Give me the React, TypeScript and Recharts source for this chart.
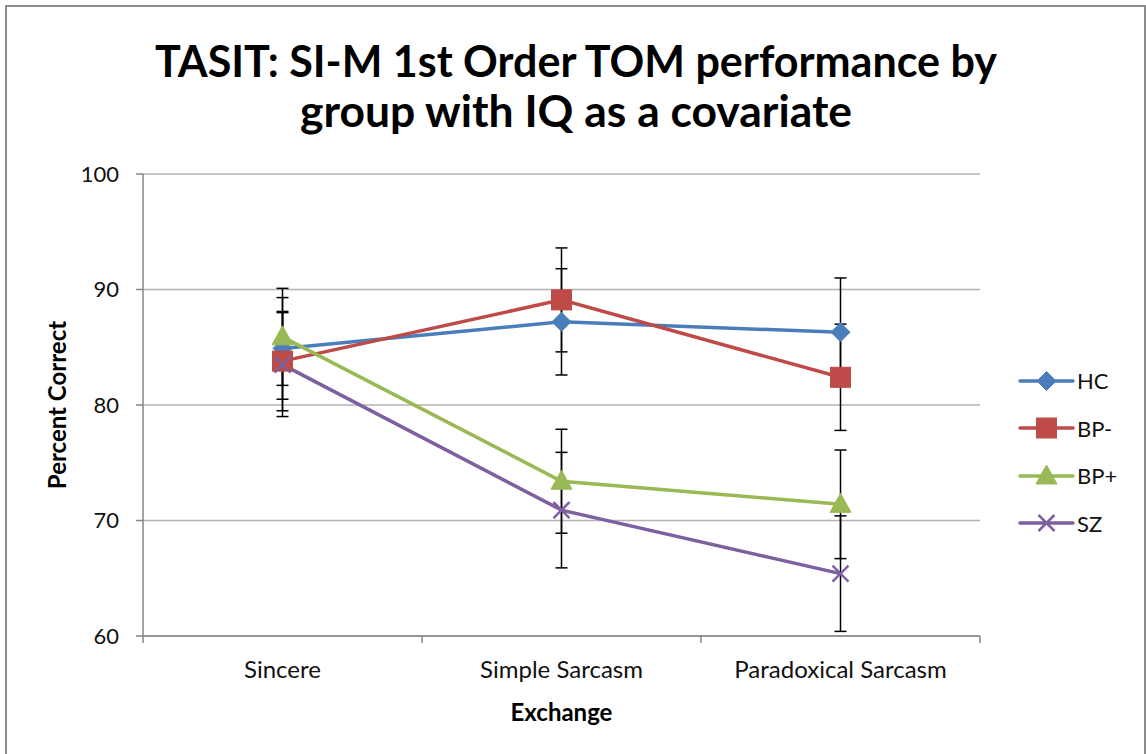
import React from "react";
import {
  CartesianGrid,
  ErrorBar,
  Label,
  Legend,
  Line,
  LineChart,
  XAxis,
  YAxis,
} from "recharts";

const categories = ["Sincere", "Simple Sarcasm", "Paradoxical Sarcasm"];

const hcValues = [84.9, 87.2, 86.3];
const hcErrors = [4.4, 4.6, 4.7];
const bpMinusValues = [83.8, 89.1, 82.4];
const bpMinusErrors = [4.3, 4.5, 4.6];
const bpPlusValues = [85.9, 73.4, 71.4];
const bpPlusErrors = [4.2, 4.5, 4.7];
const szValues = [83.5, 70.9, 65.4];
const szErrors = [4.5, 5.0, 5.0];

const yTicks = [60, 70, 80, 90, 100];
const titleLines = ["TASIT: SI-M 1st Order TOM performance by", "group with IQ as a covariate"];

const FONT = "Lato, 'Open Sans', sans-serif";

type Shape = "diamond" | "square" | "triangle" | "x";

const series: { key: string; err: string; name: string; color: string; shape: Shape }[] = [
  { key: "hc", err: "hcErr", name: "HC", color: "#4a7ebb", shape: "diamond" },
  { key: "bpMinus", err: "bpMinusErr", name: "BP-", color: "#be4b48", shape: "square" },
  { key: "bpPlus", err: "bpPlusErr", name: "BP+", color: "#98b954", shape: "triangle" },
  { key: "sz", err: "szErr", name: "SZ", color: "#7d60a0", shape: "x" },
];

const data = categories.map((name, i) => ({
  x: i + 0.5,
  name,
  hc: hcValues[i],
  hcErr: hcErrors[i],
  bpMinus: bpMinusValues[i],
  bpMinusErr: bpMinusErrors[i],
  bpPlus: bpPlusValues[i],
  bpPlusErr: bpPlusErrors[i],
  sz: szValues[i],
  szErr: szErrors[i],
}));

function Marker({ cx, cy, shape, color, k }: { cx: number; cy: number; shape: Shape; color: string; k?: string }) {
  if (shape === "diamond") {
    const h = 9.5;
    return (
      <polygon
        key={k}
        points={`${cx},${cy - h} ${cx + h},${cy} ${cx},${cy + h} ${cx - h},${cy}`}
        fill={color}
        stroke={color}
        strokeWidth={1}
      />
    );
  }
  if (shape === "square") {
    return <rect key={k} x={cx - 10} y={cy - 10} width={20} height={20} fill={color} stroke={color} strokeWidth={1} />;
  }
  if (shape === "triangle") {
    return (
      <polygon
        key={k}
        points={`${cx},${cy - 11} ${cx + 10.5},${cy + 8} ${cx - 10.5},${cy + 8}`}
        fill={color}
        stroke={color}
        strokeWidth={1}
      />
    );
  }
  return (
    <g key={k} stroke={color} strokeWidth={2.5}>
      <line x1={cx - 8} y1={cy - 8} x2={cx + 8} y2={cy + 8} />
      <line x1={cx - 8} y1={cy + 8} x2={cx + 8} y2={cy - 8} />
    </g>
  );
}

// tick marks sit between categories, labels in the middle of each band
function XTick(props: any) {
  const { x, y, payload } = props;
  const v = payload.value as number;
  if (Number.isInteger(v)) {
    return <line x1={x} y1={y - 7} x2={x} y2={y} stroke="#868686" strokeWidth={1.5} />;
  }
  const label = categories[Math.floor(v)];
  return (
    <text x={x} y={y} dy={35} textAnchor="middle" fontSize={24} fontFamily={FONT} fill="#111">
      {label}
    </text>
  );
}

function LegendContent() {
  return (
    <div style={{ width: 110, fontFamily: FONT }}>
      {series.map((s) => (
        <div key={s.key} style={{ display: "flex", alignItems: "center", height: 47.5 }}>
          <svg width={58} height={24} style={{ display: "block" }}>
            <line x1={2} y1={12} x2={55} y2={12} stroke={s.color} strokeWidth={3.5} strokeLinecap="round" />
            <Marker cx={28.5} cy={12} shape={s.shape} color={s.color} />
          </svg>
          <span style={{ fontSize: 22, color: "#111", marginLeft: 1 }}>{s.name}</span>
        </div>
      ))}
    </div>
  );
}

export default function App() {
  return (
    <div style={{ position: "absolute", left: 0, top: 0, width: 1146, height: 754, overflow: "hidden", background: "#fff" }}>
      <div
        style={{
          position: "absolute",
          left: 5,
          top: 5,
          width: 1141,
          height: 760,
          border: "2px solid #8b8b8b",
          boxSizing: "border-box",
        }}
      />
      <svg width={1146} height={150} style={{ position: "absolute", left: 0, top: 0 }}>
        <text
          x={576}
          y={77}
          textAnchor="middle"
          fontFamily={FONT}
          fontWeight={700}
          fontSize={44}
          textLength={842}
          lengthAdjust="spacingAndGlyphs"
          fill="#000"
        >
          {titleLines[0]}
        </text>
        <text
          x={576}
          y={127}
          textAnchor="middle"
          fontFamily={FONT}
          fontWeight={700}
          fontSize={44}
          textLength={552}
          lengthAdjust="spacingAndGlyphs"
          fill="#000"
        >
          {titleLines[1]}
        </text>
      </svg>
      <div style={{ position: "absolute", left: 0, top: 0 }}>
        <LineChart width={1146} height={754} data={data} margin={{ top: 174, right: 166, bottom: 58, left: 43 }}>
          <CartesianGrid vertical={false} stroke="#b3b3b3" strokeWidth={1.5} />
          <XAxis
            type="number"
            dataKey="x"
            domain={[0, 3]}
            ticks={[0, 0.5, 1, 1.5, 2, 2.5, 3]}
            interval={0}
            height={60}
            tickLine={false}
            tickSize={7}
            tickMargin={0}
            tick={<XTick />}
            axisLine={{ stroke: "#868686", strokeWidth: 1.5 }}
          >
            <Label
              value="Exchange"
              position="bottom"
              offset={8}
              style={{ fontFamily: FONT, fontWeight: 700, fontSize: 24, fill: "#000" }}
            />
          </XAxis>
          <YAxis
            type="number"
            domain={[60, 100]}
            ticks={yTicks}
            width={100}
            tickSize={7}
            tickMargin={17}
            tick={{ fontSize: 22, fontFamily: FONT, fill: "#111" }}
            tickLine={{ stroke: "#868686", strokeWidth: 1.5 }}
            axisLine={{ stroke: "#868686", strokeWidth: 1.5 }}
          >
            <Label
              value="Percent Correct"
              angle={-90}
              position="insideLeft"
              offset={14}
              style={{ fontFamily: FONT, fontWeight: 700, fontSize: 24, fill: "#000", textAnchor: "middle" }}
            />
          </YAxis>
          <Legend
            layout="vertical"
            align="center"
            verticalAlign="middle"
            wrapperStyle={{ left: 1018, top: 357, width: 110 }}
            content={<LegendContent />}
          />
          {series.map((s) => (
            <Line
              key={s.key}
              type="linear"
              dataKey={s.key}
              name={s.name}
              stroke={s.color}
              strokeWidth={3.5}
              isAnimationActive={false}
              dot={(p: any) => (
                <Marker key={`${s.key}-${p.index}`} k={`${s.key}-${p.index}`} cx={p.cx} cy={p.cy} shape={s.shape} color={s.color} />
              )}
              activeDot={false}
            >
              <ErrorBar dataKey={s.err} width={6} stroke="#000" strokeWidth={1.5} direction="y" isAnimationActive={false} />
            </Line>
          ))}
        </LineChart>
      </div>
    </div>
  );
}
